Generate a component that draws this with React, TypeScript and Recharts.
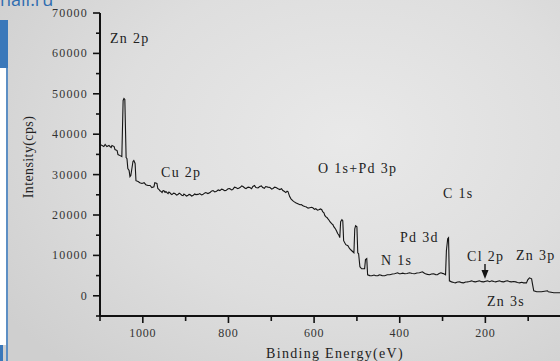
import React from 'react';
import { LineChart, Line, XAxis, YAxis } from 'recharts';

// Binding energy (eV)
const energies = [
  1100, 1095, 1091, 1088, 1084, 1079, 1074, 1072, 1067, 1065, 1060, 1058, 1053, 1049,
  1046, 1044, 1042, 1039, 1037, 1035, 1032, 1030, 1028, 1023, 1021, 1018, 1016, 1011,
  1007, 1002, 997, 993, 988, 983, 979, 974, 972, 967,
  965, 962, 960, 957, 955, 953, 951, 948, 946, 943,
  941, 939, 937, 934, 932, 928, 925, 921, 918, 915,
  913, 909, 906, 904, 902, 898, 895, 892, 890, 886,
  883, 879, 876, 871, 867, 863, 860, 856, 853, 848,
  843, 840, 836, 832, 829, 824, 820, 816, 813, 809,
  806, 801, 797, 793, 790, 786, 783, 778, 773, 769,
  766, 762, 759, 754, 750, 746, 743, 739, 736, 731,
  727, 723, 720, 716, 713, 708, 703, 699, 696, 692,
  689, 684, 680, 676, 673, 669, 666, 663, 661, 657,
  654, 650, 647, 643, 638, 633, 630, 626, 622, 619,
  614, 610, 606, 603, 599, 596, 592, 589, 585, 582,
  580, 577, 575, 573, 570, 568, 565, 563, 561, 559,
  556, 554, 551, 549, 547, 545, 542, 540, 538, 535,
  533, 531, 526, 521, 517, 512, 507, 505, 503, 500,
  498, 496, 493, 489, 482, 480, 477, 475, 470, 465,
  460, 456, 451, 447, 441, 435, 429, 423, 417, 412,
  405, 401, 398, 393, 388, 383, 377, 371, 365, 360,
  354, 347, 344, 340, 335, 330, 326, 321, 316, 312,
  308, 304, 300, 297, 293, 291, 288, 286, 284, 279,
  274, 270, 265, 260, 255, 251, 246, 242, 237, 232,
  227, 223, 218, 214, 209, 204, 199, 195, 190, 185,
  180, 176, 171, 167, 162, 157, 152, 148, 143, 139,
  134, 129, 125, 120, 115, 111, 104, 101, 97, 92,
  90, 87, 80, 69, 55, 53, 40, 27, 15, 0,
];

// Intensity (cps), one value per energy above
const intensities = [
  37450, 37200, 36950, 37450, 36950, 37200, 36700, 37200, 36950, 36200, 35950, 34950, 34700, 34450,
  48350, 48850, 48600, 34200, 33950, 31500, 31000, 29500, 29750, 33250, 33500, 32750, 28500, 28300,
  28000, 27800, 28000, 27500, 27300, 27300, 26800, 27000, 28000, 27800,
  26550, 26300, 26000, 25800, 25550, 26000, 26050, 25600, 25800, 25500,
  25300, 25700, 25550, 25200, 25050, 25400, 25300, 24900, 25050, 25400,
  25300, 24900, 24800, 25200, 25050, 24700, 24800, 25100, 25050, 24700,
  24800, 25200, 25050, 25100, 25300, 24950, 25050, 25400, 25550, 25300,
  25550, 25900, 26050, 25700, 25800, 26200, 26050, 26400, 26300, 26000,
  26050, 26500, 26550, 26200, 26300, 26900, 26800, 26500, 26800, 27200,
  27050, 26700, 26550, 26900, 26800, 26500, 27050, 27300, 26800, 26700,
  27050, 27200, 26800, 26600, 27050, 26900, 26800, 26400, 26550, 26900,
  26800, 26500, 26300, 26500, 26050, 25800, 25550, 25900, 25800, 24550,
  24000, 23550, 23300, 23050, 22800, 22550, 22600, 22300, 22100, 22050,
  21700, 21800, 21900, 21800, 21400, 21550, 21200, 21300, 21500, 21300,
  20800, 20550, 19900, 19600, 19400, 19100, 18700, 18350, 18100, 17850,
  17600, 17100, 16700, 16350, 15900, 15400, 15000, 14400, 18350, 18850,
  18600, 13650, 12650, 12400, 11650, 11150, 10650, 16600, 17350, 17100,
  10650, 10400, 7200, 6700, 6700, 8950, 9200, 5200, 5000, 4950,
  5150, 4950, 5000, 5200, 5000, 4950, 5200, 5200, 5400, 5450,
  5700, 5450, 5450, 5600, 5450, 5500, 5700, 5500, 5450, 5650,
  5700, 5950, 5700, 5450, 5300, 5200, 5400, 5450, 5250, 5200,
  5500, 5700, 5550, 5450, 5200, 11150, 14100, 14350, 3700, 3450,
  3300, 3200, 3400, 3450, 3250, 3200, 3400, 3450, 3550, 3700,
  3500, 3450, 3600, 3700, 3500, 3450, 3600, 3700, 3500, 3700,
  3550, 3450, 3600, 3700, 3500, 3450, 3650, 3700, 3500, 3450,
  3550, 3450, 3300, 3200, 3350, 3200, 3200, 3950, 4450, 4200,
  2950, 1250, 1000, 1000, 1250, 1000, 750, 750, 750, 750,
];

const xTicks = [1100, 1000, 900, 800, 700, 600, 500, 400, 300, 200, 100];
const xLabelled = [1000, 800, 600, 400, 200];
const yTicks = [-5000, 0, 5000, 10000, 15000, 20000, 25000, 30000, 35000, 40000, 45000, 50000, 55000, 60000, 65000, 70000];
const yLabelled = [0, 10000, 20000, 30000, 40000, 50000, 60000, 70000];

const peakNames = ['Zn 2p', 'Cu 2p', 'O 1s+Pd 3p', 'C 1s', 'Pd 3d', 'N 1s', 'Cl 2p', 'Zn 3p', 'Zn 3s'];
const xTitle = 'Binding Energy(eV)';
const yTitle = 'Intensity(cps)';

const data = energies.map((e, i) => ({ e, c: intensities[i] }));

const SERIF = '"Liberation Serif", "DejaVu Serif", serif';

const XTick = (props: any) => {
  const { x, y, payload } = props;
  const major = xLabelled.includes(payload.value);
  return (
    <g>
      <line x1={x} x2={x} y1={y} y2={y + (major ? 7 : 5)} stroke="#111" strokeWidth={1.6} />
      {major && (
        <text x={x} y={y + 17} textAnchor="middle" dominantBaseline="central"
          fontFamily={SERIF} fontSize={12} letterSpacing={0.8} fill="#333">
          {payload.value}
        </text>
      )}
    </g>
  );
};

const YTick = (props: any) => {
  const { x, y, payload } = props;
  const major = yLabelled.includes(payload.value);
  return (
    <g>
      <line x1={x} x2={x - (major ? 7 : 4)} y1={y} y2={y} stroke="#111" strokeWidth={1.6} />
      {major && (
        <text x={x - 12} y={y} textAnchor="end" dominantBaseline="central"
          fontFamily={SERIF} fontSize={12} letterSpacing={1.2} fill="#333">
          {payload.value}
        </text>
      )}
    </g>
  );
};

const labelPos: [number, number][] = [
  [110, 38], [161, 172], [318, 168], [443, 193], [400, 237], [381, 260], [467, 256], [516, 255], [487, 301],
];

export default function App() {
  return (
    <div style={{
      position: 'absolute', left: 0, top: 0, width: 560, height: 361, overflow: 'hidden',
      background: 'radial-gradient(ellipse 75% 85% at 62% 38%, #e9e9e9 0%, #dedede 55%, #cfcfcf 100%)',
    }}>
      {/* page fragments around the figure */}
      <div style={{ position: 'absolute', left: 0, top: 20, width: 8, height: 48, background: '#3a78ba' }} />
      <div style={{ position: 'absolute', left: 0, top: 68, width: 6, height: 277, background: '#ffffff' }} />
      <div style={{ position: 'absolute', left: 6, top: 68, width: 2, height: 293, background: '#5d8fc4' }} />
      <div style={{ position: 'absolute', left: 0, top: 345, width: 3, height: 16, background: '#3a78ba' }} />
      <div style={{
        position: 'absolute', left: 0, top: -11, fontFamily: '"Open Sans", sans-serif', fontSize: 18,
        color: '#2f6db0', lineHeight: '20px', whiteSpace: 'nowrap',
      }}>nail.ru</div>

      <div style={{ position: 'absolute', left: 0, top: 0 }}>
        <LineChart width={580} height={361} data={data} margin={{ top: 13, right: 9, bottom: 0, left: 0 }}>
          <XAxis dataKey="e" type="number" domain={[0, 1100]} reversed ticks={xTicks} interval={0}
            height={45} tickSize={0} tickMargin={0} tick={<XTick />}
            axisLine={{ stroke: '#111', strokeWidth: 2 }} tickLine={false} allowDataOverflow />
          <YAxis type="number" domain={[-5000, 70000]} ticks={yTicks} interval={0}
            width={100} tickSize={0} tickMargin={0} tick={<YTick />}
            axisLine={{ stroke: '#111', strokeWidth: 2 }} tickLine={false} allowDataOverflow />
          <Line dataKey="c" type="linear" stroke="#151515" strokeWidth={1.1} dot={false}
            isAnimationActive={false} />
        </LineChart>
      </div>

      <svg width={560} height={361} style={{ position: 'absolute', left: 0, top: 0, pointerEvents: 'none' }}>
        {peakNames.map((name, i) => (
          <text key={name} x={labelPos[i][0]} y={labelPos[i][1]} dominantBaseline="central"
            fontFamily={SERIF} fontSize={14} letterSpacing={1.3} fill="#222">{name}</text>
        ))}
        <line x1={485} x2={485} y1={264} y2={271} stroke="#111" strokeWidth={1.4} />
        <path d="M481.5,270 L488.5,270 L485,279 Z" fill="#111" />
        <text x={335} y={358} textAnchor="middle" fontFamily={SERIF} fontSize={14}
          letterSpacing={1.3} fill="#222">{xTitle}</text>
        <text x={0} y={0} transform="translate(28,157) rotate(-90)" textAnchor="middle"
          dominantBaseline="central" fontFamily={SERIF} fontSize={14} letterSpacing={0.4}
          fill="#222">{yTitle}</text>
      </svg>
    </div>
  );
}
